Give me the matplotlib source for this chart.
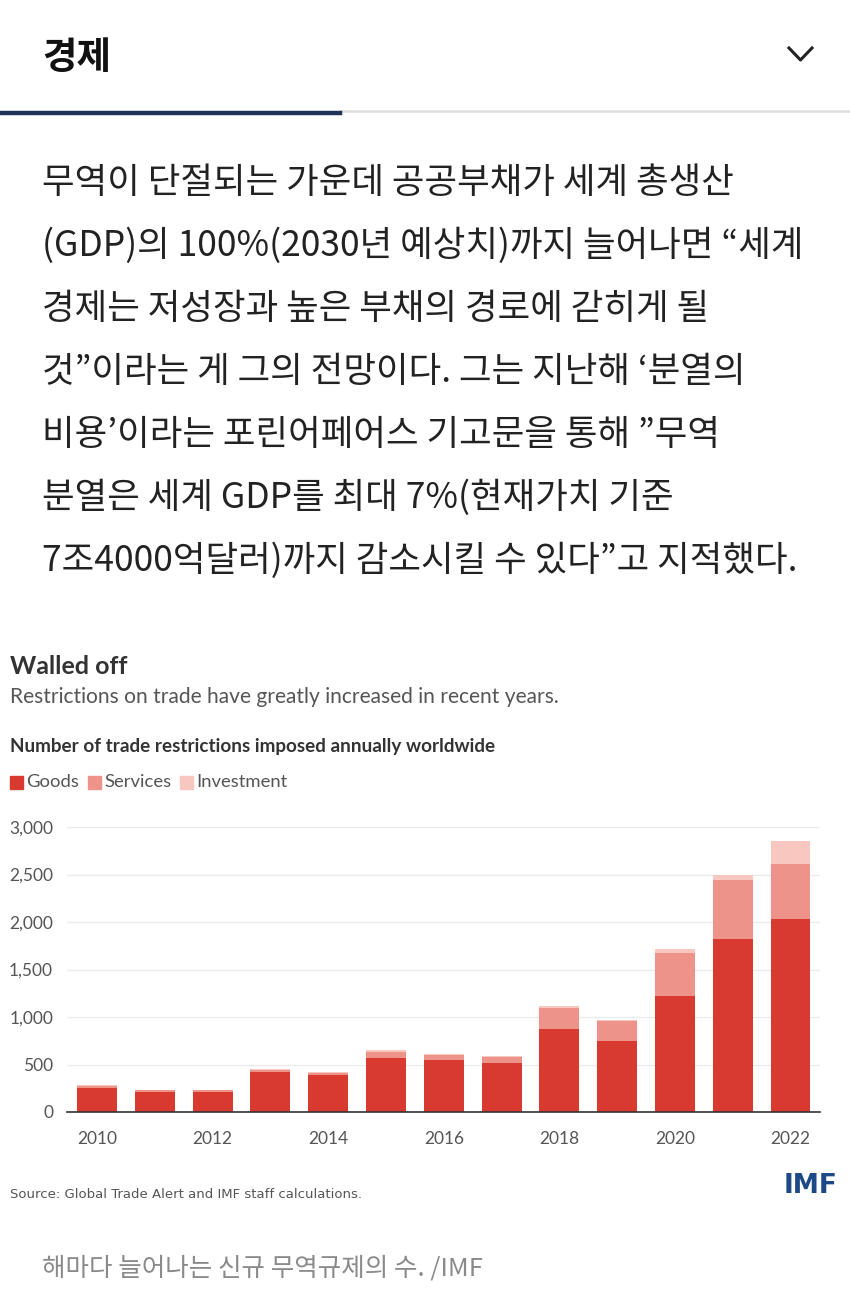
import matplotlib.pyplot as plt
from matplotlib.lines import Line2D
from matplotlib.patches import Rectangle

years = [2010, 2011, 2012, 2013, 2014, 2015, 2016, 2017, 2018, 2019, 2020, 2021, 2022]
goods = [249, 214, 214, 424, 385, 572, 543, 512, 874, 743, 1217, 1822, 2035]
services = [25, 14, 16, 22, 25, 63, 60, 70, 221, 211, 458, 625, 576]
investment = [6, 4, 5, 7, 7, 14, 11, 11, 24, 18, 42, 52, 238]
yticks = [0, 500, 1000, 1500, 2000, 2500, 3000]
xticks = [2010, 2012, 2014, 2016, 2018, 2020, 2022]

body_lines = [
    "무역이 단절되는 가운데 공공부채가 세계 총생산",
    "(GDP)의 100%(2030년 예상치)까지 늘어나면 “세계",
    "경제는 저성장과 높은 부채의 경로에 갇히게 될",
    "것”이라는 게 그의 전망이다. 그는 지난해 ‘분열의",
    "비용’이라는 포린어페어스 기고문을 통해 ”무역",
    "분열은 세계 GDP를 최대 7%(현재가치 기준",
    "7조4000억달러)까지 감소시킬 수 있다”고 지적했다.",
]

C_GOODS = "#d93a2f"
C_SERV = "#ee938a"
C_INV = "#f8c7bf"
KR = ["Noto Sans CJK KR", "DejaVu Sans"]
LATIN = ["Lato", "DejaVu Sans"]

W, H = 850, 1299
fig = plt.figure(figsize=(W / 100, H / 100), dpi=100)


def fx(px):
    return px / W


def fy(py):
    return 1 - py / H


# header
fig.text(fx(42), fy(57), "경제", family=KR, fontsize=27, fontweight="bold",
         color="#111111", va="center")
fig.add_artist(Line2D([fx(789), fx(800.5), fx(812)], [fy(48), fy(60), fy(48)],
                      color="#222222", lw=2.2, transform=fig.transFigure))
fig.add_artist(Line2D([fx(340), fx(850)], [fy(111), fy(111)], color="#dddddd",
                      lw=1.8, transform=fig.transFigure))
fig.add_artist(Line2D([fx(0), fx(340)], [fy(113), fy(113)], color="#1f3358",
                      lw=3.2, transform=fig.transFigure))

# article text
for i, line in enumerate(body_lines):
    fig.text(fx(42), fy(183 + 63 * i), line, family=KR, fontsize=25.5,
             color="#222222", va="center")

# chart heading
fig.text(fx(10), fy(666), "Walled off", family=LATIN, fontsize=18,
         fontweight="bold", color="#333333", va="center")
fig.text(fx(10), fy(697), "Restrictions on trade have greatly increased in recent years.",
         family=LATIN, fontsize=15.1, color="#555555", va="center")
fig.text(fx(10), fy(746), "Number of trade restrictions imposed annually worldwide",
         family=LATIN, fontsize=13.6, fontweight="bold", color="#333333", va="center")

legend_items = [("Goods", C_GOODS, 10), ("Services", C_SERV, 88), ("Investment", C_INV, 180)]
for name, col, x0 in legend_items:
    fig.add_artist(Rectangle((fx(x0), fy(789)), fx(13), 13 / H, color=col,
                             transform=fig.transFigure))
    fig.text(fx(x0 + 16), fy(782), name, family=LATIN, fontsize=13.3,
             color="#555555", va="center")

# chart
ax = fig.add_axes([fx(67), 1 - 1112 / H, fx(820) - fx(67), 285 / H])
bottom2 = [g + s for g, s in zip(goods, services)]
ax.bar(years, goods, width=0.69, color=C_GOODS, zorder=3)
ax.bar(years, services, width=0.69, bottom=goods, color=C_SERV, zorder=3)
ax.bar(years, investment, width=0.69, bottom=bottom2, color=C_INV, zorder=3)
ax.set_xlim(2009.48, 2022.51)
ax.set_ylim(0, 3000)
ax.set_yticks(yticks)
ax.set_yticklabels([f"{v:,}" for v in yticks])
ax.set_xticks(xticks)
ax.set_xticklabels([str(x) for x in xticks])
ax.grid(axis="y", color="#ebebeb", lw=1, zorder=0)
for s in ["top", "right", "left"]:
    ax.spines[s].set_visible(False)
ax.spines["bottom"].set_color("#333333")
ax.spines["bottom"].set_linewidth(1.2)
ax.spines["bottom"].set_zorder(4)
ax.tick_params(length=0, labelsize=12.5, labelcolor="#555555")
ax.tick_params(axis="y", pad=10)
ax.tick_params(axis="x", pad=14)
for lab in ax.get_xticklabels() + ax.get_yticklabels():
    lab.set_family(LATIN)

# footer
fig.text(fx(10), fy(1194), "Source: Global Trade Alert and IMF staff calculations.",
         family=["Liberation Sans Narrow", "DejaVu Sans"], fontsize=9.5,
         color="#555555", va="center")
fig.text(fx(838), fy(1186), "IMF", family=["Liberation Sans Narrow", "DejaVu Sans"],
         fontsize=19, fontweight="bold", color="#1d4a86", va="center", ha="right")
fig.text(fx(42), fy(1268), "해마다 늘어나는 신규 무역규제의 수. /IMF", family=KR,
         fontsize=18.4, color="#8a8a8a", va="center")

fig.savefig("out.png", dpi=100, facecolor="white")
